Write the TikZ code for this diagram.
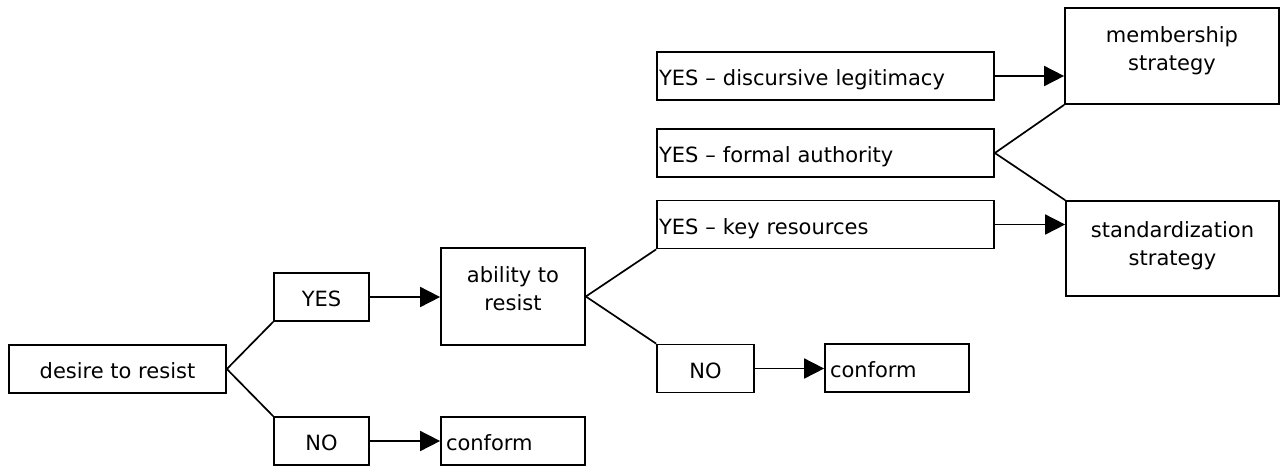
\documentclass[tikz,border=0pt]{standalone}
\usepackage{fontspec}
\setmainfont{DejaVu Sans}
\usetikzlibrary{arrows.meta}

\begin{document}
\begin{tikzpicture}[x=0.5pt,y=-0.5pt,
  font=\fontsize{10.5}{14}\selectfont,
  box/.style={draw,line width=0.85pt,inner sep=0pt,minimum height=24pt,
    text height=9.7pt,text depth=0pt},
  leftbox/.style={box,align=left,text width=#1,inner xsep=1pt},
  plain/.style={inner sep=0pt,align=center},
  link/.style={line width=0.85pt},
  arr/.style={link,-{Triangle[length=10pt,width=10pt]}}]
  \useasboundingbox (0,0) rectangle (1281,467);
  % first question
  \node[box,minimum width=108.5pt] (desire) at (117.5,369) {desire to resist};
  \node[box,minimum width=47.5pt]  (yesA)   at (321.5,297) {YES};
  \node[box,minimum width=47.5pt]  (noA)    at (321.5,441) {NO};
  \node[leftbox=67pt,inner xsep=2.5pt] (conformA) at (513,441) {conform};
  % second question
  \node[box,minimum width=72pt,minimum height=48.5pt,text height=,text depth=] (ability) at (513,296.5) {};
  \node[plain,anchor=north] (abilityText) at ([yshift=-9.5pt]ability.north) {ability to\\resist};
  \node[box,minimum width=48.5pt] (noB) at (705.5,368.5) {NO};
  \node[leftbox=67pt,inner xsep=2.5pt] (conformB) at (897,368) {conform};
  % kinds of ability
  \node[leftbox=166.5pt] (yesDisc)   at (825.5,76)    {YES -- discursive legitimacy};
  \node[leftbox=166.5pt] (yesFormal) at (825.5,153)   {YES -- formal authority};
  \node[leftbox=166.5pt] (yesKey)    at (825.5,224.5) {YES -- key resources};
  % strategies
  \node[box,minimum width=107pt,minimum height=48pt,text height=,text depth=] (member) at (1172,56) {};
  \node[plain,anchor=north] (memberText) at ([yshift=-9.5pt]member.north) {membership\\strategy};
  \node[box,minimum width=106.5pt,minimum height=47.5pt,text height=,text depth=] (stand) at (1172.5,248.5) {};
  \node[plain,anchor=north] (standText) at ([yshift=-10.5pt]stand.north) {standardization\\strategy};

  \draw[link] (desire.east) -- (yesA.south west);
  \draw[link] (desire.east) -- (noA.north west);
  \draw[arr] (yesA.east) -- (yesA.east -| ability.west);
  \draw[arr] (noA.east) -- (conformA.west);
  \draw[link] (ability.east) -- (yesKey.south west);
  \draw[link] (ability.east) -- (noB.north west);
  \draw[arr] (noB.east) -- (noB.east -| conformB.west);
  \draw[arr] (yesDisc.east) -- (yesDisc.east -| member.west);
  \draw[arr] (yesKey.east) -- (yesKey.east -| stand.west);
  \draw[link] (yesFormal.east) -- (member.south west);
  \draw[link] (yesFormal.east) -- (stand.north west);
\end{tikzpicture}
\end{document}
